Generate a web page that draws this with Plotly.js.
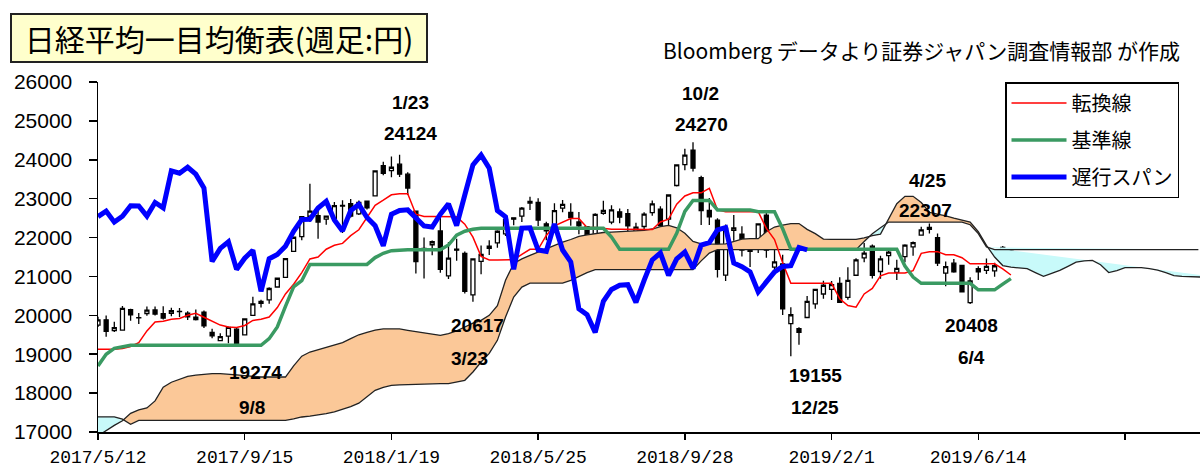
<!DOCTYPE html>
<html><head><meta charset="utf-8">
<script src="https://cdn.plot.ly/plotly-3.0.1.min.js"></script>
<style>html,body{margin:0;padding:0;background:#fff}#chart{width:1200px;height:469px}</style>
</head><body><div id="chart"></div>
<script>
const weeks = ["2017/5/12","2017/5/19","2017/5/26","2017/6/2","2017/6/9","2017/6/16","2017/6/23","2017/6/30","2017/7/7","2017/7/14","2017/7/21","2017/7/28","2017/8/4","2017/8/11","2017/8/18","2017/8/25","2017/9/1","2017/9/8","2017/9/15","2017/9/22","2017/9/29","2017/10/6","2017/10/13","2017/10/20","2017/10/27","2017/11/3","2017/11/10","2017/11/17","2017/11/24","2017/12/1","2017/12/8","2017/12/15","2017/12/22","2017/12/29",
"2018/1/5","2018/1/12","2018/1/19","2018/1/26","2018/2/2","2018/2/9","2018/2/16","2018/2/23","2018/3/2","2018/3/9","2018/3/16","2018/3/23","2018/3/30","2018/4/6","2018/4/13","2018/4/20","2018/4/27","2018/5/4","2018/5/11","2018/5/18","2018/5/25","2018/6/1","2018/6/8","2018/6/15","2018/6/22","2018/6/29","2018/7/6","2018/7/13","2018/7/20","2018/7/27","2018/8/3","2018/8/10","2018/8/17","2018/8/24","2018/8/31","2018/9/7","2018/9/14","2018/9/21","2018/9/28","2018/10/5","2018/10/12","2018/10/19","2018/10/26","2018/11/2","2018/11/9","2018/11/16","2018/11/23","2018/11/30","2018/12/7","2018/12/14","2018/12/21","2018/12/28",
"2019/1/4","2019/1/11","2019/1/18","2019/1/25","2019/2/1","2019/2/8","2019/2/15","2019/2/22","2019/3/1","2019/3/8","2019/3/15","2019/3/22","2019/3/29","2019/4/5","2019/4/12","2019/4/19","2019/4/26","2019/5/10","2019/5/17","2019/5/24","2019/5/31","2019/6/7","2019/6/14","2019/6/21","2019/6/28","2019/7/5","2019/7/12"];

const open = [19750,19885,19607,19621,20148,19935,20047,20139,20046,20051,20097,20055,19893,20083,19564,19352,19465,19645,19496,20000,20305,20400,20729,20974,21644,22025,22548,22565,22473,22494,22826,22872,22611,22937,
23073,23850,23722,23887,23629,22682,21703,21815,22170,21013,21700,21590,20527,21388,21723,21861,22095,22507,22549,22889,22902,22354,22313,22757,22645,22400,22281,21900,22625,22397,22661,22616,21848,22284,22640,22733,22475,23339,23876,24245,23540,22700,22449,21032,22183,22089,21693,21700,22574,21241,21325,19785,
19655,19944,20296,20548,20670,20822,20461,21031,21477,21778,21127,21535,21107,21509,21761,22065,22208,22000,21083,21342,21287,20327,21200,21157,21144,21672,21682];
const high = [19961,19998,19832,20239,20170,20060,20230,20225,20234,20195,20188,20104,20150,20127,19658,19540,19711,19676,19909,20481,20400,20724,20960,21466,22012,22540,23382,22757,22566,22916,22957,22994,22951,22937,
23730,23952,24085,24129,23677,22682,22002,21926,22502,21884,21968,21640,21454,21796,21933,22191,22495,22507,22786,23050,23009,22408,22879,22966,22880,22657,22281,22626,22949,22832,22747,22736,22382,22652,22954,22803,23094,23869,24286,24448,23589,23016,22494,22334,22583,22289,21854,22351,22698,21900,21556,20211,
19692,20494,20666,20892,20884,20981,21235,21467,21860,21822,21531,21713,21428,21828,21900,22277,22362,22104,21387,21451,21296,20979,21259,21462,21354,21784,21727];
const low = [19700,19449,19571,19607,19860,19779,19991,19994,19891,19974,19959,19880,19864,19675,19408,19339,19280,19239,19487,19992,20200,20300,20729,20960,21644,21930,22403,21972,22332,22451,22120,22515,22579,22724,
23073,23601,23550,23560,23092,21078,20950,21546,21092,20937,21403,20559,20347,21056,21553,21741,22039,22317,22399,22707,22295,21931,22290,22652,22304,22083,21462,21848,22585,22340,22370,22165,21851,22081,22560,22172,22303,23311,23731,23700,22323,22325,20971,20880,21920,21510,21243,21600,21482,21047,20006,18949,
19241,19944,20168,20424,20392,20315,20400,21023,21364,20945,20938,21300,20911,21362,21534,22062,22104,21267,20751,21097,20601,20289,20909,21062,20995,21538,21415];
const close = [19883,19590,19686,20177,20013,19943,20132,20033,19929,20118,20099,19959,19952,19729,19470,19452,19691,19274,19909,20296,20356,20690,20954,21457,22008,22539,22681,22397,22550,22819,22811,22553,22903,22765,
23714,23653,23808,23631,23274,21383,21720,21892,21181,21469,21676,20617,21454,21567,21778,22162,22467,22472,22758,22930,22450,22171,22694,22851,22516,22304,21788,22597,22697,22712,22525,22298,22270,22601,22865,22307,23094,23869,24120,23783,22694,22532,21184,22243,22250,21680,21646,22351,21679,21374,20166,20015,
19561,20359,20666,20773,20788,20333,20900,21425,21602,21025,21451,21627,21205,21807,21870,22200,22258,21344,21250,21117,20601,20884,21116,21258,21275,21746,21685];

// 転換線 (conversion line)
const tenkan = [19125,19125,19125,19150,19200,19300,19600,19830,19850,19900,19920,20000,20050,19950,19850,19750,19700,19690,19740,19870,19900,19955,20200,20550,20800,21100,21450,21500,21700,21800,21850,22050,22200,22500,
22830,22960,23100,23125,23125,22600,22540,22540,22540,22533,22533,22344,22012,21515,21425,21425,21425,21427,21567,21699,21699,22053,22302,22396,22491,22491,22256,22256,22236,22214,22214,22214,22206,22206,22208,22401,22473,22860,23069,23150,23150,23265,22710,22664,22664,22664,22664,22664,22235,21948,21352,20824,
20824,20824,20824,20824,20824,20425,20253,20208,20551,20694,21014,21088,21088,21088,21150,21594,21637,21637,21557,21557,21482,21326,21326,21326,21326,21197,21037];
// 基準線 (base line)
const kijun = [18700,19000,19150,19200,19230,19230,19230,19230,19230,19230,19230,19230,19230,19230,19230,19230,19230,19230,19230,19230,19230,19400,19700,20230,20730,20890,21310,21310,21310,21310,21310,21310,21310,21310,
21485,21596,21662,21684,21684,21684,21684,21684,21684,21808,22060,22164,22214,22238,22238,22238,22238,22238,22238,22238,22238,22238,22238,22238,22238,22238,22238,22238,22238,22012,21698,21698,21698,21698,21698,21698,21698,22108,22671,22955,22955,22955,22710,22710,22710,22710,22710,22664,22664,22664,22227,21699,
21699,21699,21699,21699,21699,21699,21699,21699,21699,21699,21699,21699,21699,21269,20983,20824,20824,20824,20824,20824,20824,20824,20656,20656,20656,20802,20945];
// 先行スパン1 / 先行スパン2 (cloud boundaries, projected ahead)
const spanA = [16900,17040,17170,17290,17480,17570,17620,17800,18150,18280,18350,18430,18460,18480,18500,18500,18490,18470,18450,18430,18414,18414,18414,18414,18700,18950,19056,19120,19185,19250,19300,19400,19500,19560,19620,19650,19657,19650,19614,19580,19540,19500,19485,19529,19600,19700,19800,19871,20000,20250,20900,21336,21450,21542,21630,21722,21800,21880,21950,22030,22070,22100,22130,22140,22150,22160,22175,22184,22220,22280,22312,22250,22110,21900,21840,21830,21830,21840,21900,21960,21970,21970,22150,22270,22320,22360,22360,22210,22100,21960,21953,21955,21955,21955,21990,22050,22090,22480,22870,23060,23060,22900,22650,22600,22560,22500,22450,22400,22150,21800,21500,21280,21240,21220,21200,21100,21001,21080,21156,21260,21369,21400,21412,21300,21100,21150,21225,21225,21225,21200,21160,21100,21020,21000,20990,20984,20980,20990];
const spanB = [17390,17390,17390,17330,17200,17301,17301,17301,17301,17301,17301,17301,17301,17301,17301,17301,17301,17301,17301,17301,17301,17301,17301,17301,17340,17386,17410,17440,17473,17520,17580,17650,17740,17900,18072,18150,18200,18210,18220,18230,18240,18244,18244,18244,18280,18329,18542,18800,19023,19357,19955,20470,20727,20829,20829,20829,20829,20829,20900,21000,21100,21174,21174,21174,21174,21174,21174,21174,21174,21174,21174,21174,21174,21174,21400,21600,21690,21690,21690,21690,21690,21690,21690,21690,21690,21690,21690,21690,21690,21690,21690,21690,21690,21690,21900,22100,22250,22398,22398,22398,22398,22398,22398,22398,22398,22398,22398,22330,22100,21760,21690,21690,21690,21690,21690,21690,21690,21690,21690,21690,21690,21690,21690,21690,21690,21690,21690,21690,21690,21690,21690,21690,21690,21690,21690,21690];
const CHIKOU_SHIFT = 25;

const tickIdx = [0,18,36,54,72,90,108,126];
const yTicks = [17000,18000,19000,20000,21000,22000,23000,24000,25000,26000];
const labels = [
  {t:"1/23", x:38.3, y:25473}, {t:"24124", x:38.3, y:24677},
  {t:"10/2", x:73.9, y:25704}, {t:"24270", x:74.1, y:24907},
  {t:"4/25", x:101.8, y:23468}, {t:"22307", x:101.5, y:22697},
  {t:"19274", x:19.3, y:18540}, {t:"9/8", x:18.9, y:17640},
  {t:"20617", x:46.6, y:19742}, {t:"3/23", x:45.6, y:18894},
  {t:"19155", x:88, y:18457}, {t:"12/25", x:88, y:17640},
  {t:"20408", x:107.2, y:19742}, {t:"6/4", x:107.2, y:18920}
];

const idx = close.map((_, i) => i);
const traces = [];

function cloudSegments(a, b) {
  const segs = []; let cur = null;
  for (let i = 0; i < a.length; i++) {
    const bull = a[i] >= b[i];
    if (!cur) { cur = {bull, x:[i], a:[a[i]], b:[b[i]]}; continue; }
    if (bull !== cur.bull) {
      const d0 = a[i-1]-b[i-1], d1 = a[i]-b[i];
      const t = d0/(d0-d1);
      const xc = i-1+t, yc = a[i-1] + t*(a[i]-a[i-1]);
      cur.x.push(xc); cur.a.push(yc); cur.b.push(yc);
      segs.push(cur);
      cur = {bull, x:[xc, i], a:[yc, a[i]], b:[yc, b[i]]};
    } else { cur.x.push(i); cur.a.push(a[i]); cur.b.push(b[i]); }
  }
  segs.push(cur);
  return segs;
}
cloudSegments(spanA, spanB).forEach(s => {
  traces.push({
    type:'scatter', mode:'lines', x: s.x.concat(s.x.slice().reverse()),
    y: s.a.concat(s.b.slice().reverse()), fill:'toself',
    fillcolor: s.bull ? '#FBC898' : '#C8FAFA', line:{width:0}, showlegend:false, hoverinfo:'skip'
  });
});
const spanX = spanA.map((_, i) => i);
traces.push({type:'scatter', mode:'lines', x:spanX, y:spanA, line:{color:'#222', width:1.3}, showlegend:false});
traces.push({type:'scatter', mode:'lines', x:spanX, y:spanB, line:{color:'#222', width:1.3}, showlegend:false});

traces.push({
  type:'candlestick', x: idx, open, high, low, close, showlegend:false,
  whiskerwidth:0,
  increasing:{line:{color:'#000', width:1.3}, fillcolor:'#FFFFFF'},
  decreasing:{line:{color:'#000', width:1.3}, fillcolor:'#000000'}
});

traces.push({type:'scatter', mode:'lines', name:'転換線', x: idx, y: tenkan,
  line:{color:'#FF0000', width:1.5}, legendgroup:'a', legendrank:1});
traces.push({type:'scatter', mode:'lines', name:'基準線', x: idx, y: kijun,
  line:{color:'#3A9A62', width:3.5}, legendgroup:'b', legendrank:2});
const chX = [], chY = [];
close.forEach((c, i) => { if (i >= CHIKOU_SHIFT) { chX.push(i - CHIKOU_SHIFT); chY.push(c); } });
traces.push({type:'scatter', mode:'lines', name:'遅行スパン', x: chX, y: chY,
  line:{color:'#0000FF', width:5}, legendgroup:'c', legendrank:3});

const annotations = labels.map(l => ({
  x:l.x, y:l.y, xref:'x', yref:'y', text:'<b>'+l.t+'</b>', showarrow:false,
  font:{family:'Liberation Sans, Arial', size:19, color:'#000'}
}));
annotations.push({
  xref:'paper', yref:'paper', x:(219-98)/1102, y:(432-38)/350, xanchor:'center', yanchor:'middle',
  text:'日経平均一目均衡表(週足:円)', showarrow:false, width:412, height:44,
  bgcolor:'#FFFFCC', bordercolor:'#222', borderwidth:2, borderpad:1,
  font:{family:'Noto Sans CJK JP', size:30, color:'#000'}
});
annotations.push({
  xref:'paper', yref:'paper', x:(1182-98)/1102, y:(432-50)/350, xanchor:'right', yanchor:'middle',
  text:'Bloomberg データより証券ジャパン調査情報部 が作成', showarrow:false,
  font:{family:'Noto Sans CJK JP', size:21, color:'#000'}
});

const layout = {
  width:1200, height:469, margin:{l:98, r:0, t:82, b:37},
  paper_bgcolor:'#fff', plot_bgcolor:'#fff', showlegend:true,
  legend:{x:(1005-98)/1102, xanchor:'left', y:1, yanchor:'top', bgcolor:'#fff',
    bordercolor:'#000', borderwidth:1.5, tracegroupgap:8, itemwidth:55,
    font:{family:'Noto Sans CJK JP', size:20, color:'#000'}},
  xaxis:{range:[0,135.2], tickvals:tickIdx, ticktext:tickIdx.map(i => i < weeks.length ? weeks[i] : ''),
    showgrid:false, zeroline:false, showline:true, linecolor:'#000', linewidth:1.5,
    ticks:'outside', ticklen:6, tickwidth:1.5, tickcolor:'#000', ticklabelstandoff:2,
    rangeslider:{visible:false}, tickfont:{family:'Liberation Mono, monospace', size:18, color:'#000'}},
  yaxis:{range:[17000,26000], tickvals:yTicks, ticktext:yTicks.map(String),
    showgrid:false, zeroline:false, showline:true, linecolor:'#000', linewidth:1.5,
    ticks:'outside', ticklen:8, tickwidth:1.5, tickcolor:'#000', ticklabelstandoff:12,
    tickfont:{family:'Liberation Sans, Arial', size:21, color:'#000'}},
  annotations
};
Plotly.newPlot('chart', traces, layout, {displayModeBar:false, staticPlot:true});
</script></body></html>
